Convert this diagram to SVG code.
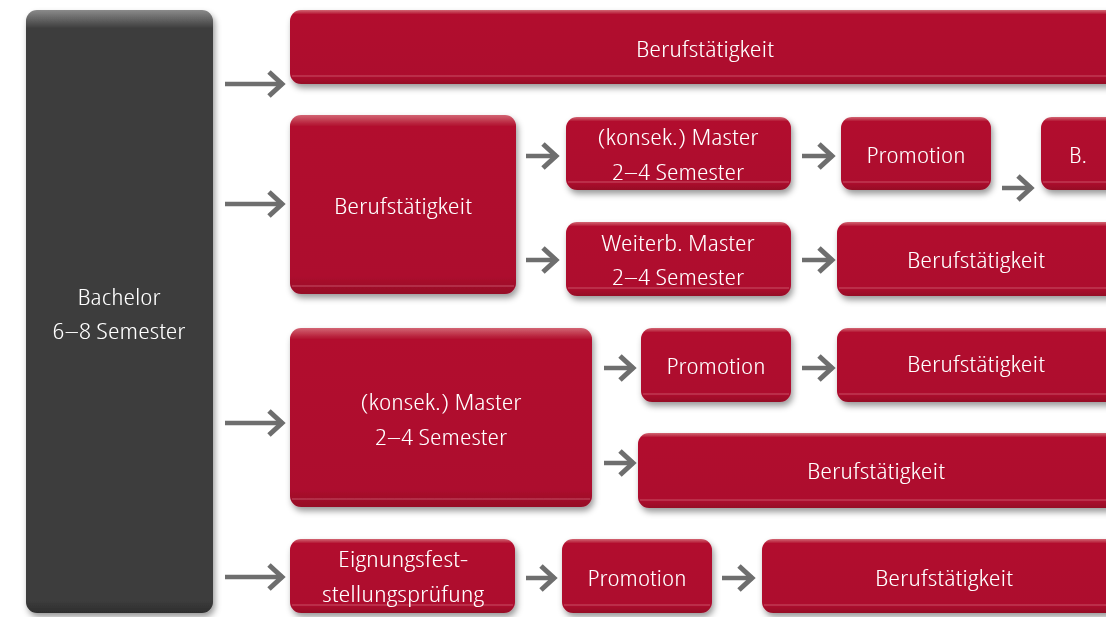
<svg xmlns="http://www.w3.org/2000/svg" width="1106" height="617" viewBox="0 0 1106 617">
<style>
.box{fill:url(#red)}
.hl{stroke:#d4707f;stroke-width:1;opacity:0.7}
.t{font-family:"Open Sans","DejaVu Sans Condensed",sans-serif;font-stretch:condensed;font-weight:300;font-size:22.5px;fill:#ffffff;text-anchor:middle}
.arr{stroke:#6e6e6e;stroke-width:4.5;fill:none;stroke-linecap:butt}
</style>
<defs>
<linearGradient id="red" x1="0" y1="0" x2="0" y2="1">
<stop offset="0" stop-color="#d26573"/>
<stop offset="0.06" stop-color="#b2112f"/>
<stop offset="0.9" stop-color="#ad0a2e"/>
<stop offset="1" stop-color="#950826"/>
</linearGradient>
<linearGradient id="dark" x1="0" y1="0" x2="0" y2="1">
<stop offset="0" stop-color="#8a8a8a"/>
<stop offset="0.03" stop-color="#3e3e3e"/>
<stop offset="0.98" stop-color="#3c3c3c"/>
<stop offset="1" stop-color="#2e2e2e"/>
</linearGradient>
<filter id="sh" x="-10%" y="-10%" width="120%" height="130%">
<feDropShadow dx="2" dy="4" stdDeviation="3" flood-color="#000" flood-opacity="0.4"/>
</filter>
<marker id="ah" viewBox="0 0 20 28" refX="17" refY="14" markerWidth="20" markerHeight="28" markerUnits="userSpaceOnUse" orient="auto">
<path d="M3,2 L16,14 L3,26" fill="none" stroke="#6e6e6e" stroke-width="5"/>
</marker>
</defs>
<rect width="1106" height="617" fill="#ffffff"/>

<g id="bachelor" filter="url(#sh)">
<rect x="26" y="10" width="187" height="603" rx="11" fill="url(#dark)"/>
<text class="t" x="119" y="305" textLength="83" lengthAdjust="spacingAndGlyphs">Bachelor</text>
<text class="t" x="119" y="339" textLength="133" lengthAdjust="spacingAndGlyphs">6–8 Semester</text>
</g>

<g id="r1-beruf" filter="url(#sh)">
<rect class="box" x="290" y="10" width="830" height="74" rx="11"/>
<line class="hl" x1="292" y1="76" x2="1106" y2="76"/>
<text class="t" x="705" y="57" textLength="138" lengthAdjust="spacingAndGlyphs">Berufstätigkeit</text>
</g>

<g id="r2-beruf" filter="url(#sh)">
<rect class="box" x="290" y="115" width="226" height="179" rx="11"/>
<line class="hl" x1="292" y1="286" x2="514" y2="286"/>
<text class="t" x="403" y="214" textLength="138" lengthAdjust="spacingAndGlyphs">Berufstätigkeit</text>
</g>

<g id="r2-master" filter="url(#sh)">
<rect class="box" x="566" y="117" width="225" height="73" rx="11"/>
<line class="hl" x1="568" y1="182" x2="789" y2="182"/>
<text class="t" x="678" y="145" textLength="161" lengthAdjust="spacingAndGlyphs">(konsek.) Master</text>
<text class="t" x="678" y="180" textLength="132" lengthAdjust="spacingAndGlyphs">2–4 Semester</text>
</g>

<g id="r2-promotion" filter="url(#sh)">
<rect class="box" x="841" y="117" width="150" height="73" rx="11"/>
<line class="hl" x1="843" y1="182" x2="989" y2="182"/>
<text class="t" x="916" y="163" textLength="99" lengthAdjust="spacingAndGlyphs">Promotion</text>
</g>

<g id="r2-b" filter="url(#sh)">
<rect class="box" x="1041" y="117" width="80" height="73" rx="11"/>
<line class="hl" x1="1043" y1="182" x2="1106" y2="182"/>
<text class="t" x="1078" y="163" textLength="18" lengthAdjust="spacingAndGlyphs">B.</text>
</g>

<g id="r2-weiterb" filter="url(#sh)">
<rect class="box" x="566" y="222" width="225" height="74" rx="11"/>
<line class="hl" x1="568" y1="288" x2="789" y2="288"/>
<text class="t" x="678" y="251" textLength="153" lengthAdjust="spacingAndGlyphs">Weiterb. Master</text>
<text class="t" x="678" y="285" textLength="132" lengthAdjust="spacingAndGlyphs">2–4 Semester</text>
</g>

<g id="r2-beruf2" filter="url(#sh)">
<rect class="box" x="837" y="222" width="283" height="74" rx="11"/>
<line class="hl" x1="839" y1="288" x2="1106" y2="288"/>
<text class="t" x="976" y="268" textLength="138" lengthAdjust="spacingAndGlyphs">Berufstätigkeit</text>
</g>

<g id="r3-master" filter="url(#sh)">
<rect class="box" x="290" y="328" width="302" height="179" rx="11"/>
<line class="hl" x1="292" y1="499" x2="590" y2="499"/>
<text class="t" x="441" y="410" textLength="161" lengthAdjust="spacingAndGlyphs">(konsek.) Master</text>
<text class="t" x="441" y="445" textLength="132" lengthAdjust="spacingAndGlyphs">2–4 Semester</text>
</g>

<g id="r3-promotion" filter="url(#sh)">
<rect class="box" x="641" y="328" width="150" height="74" rx="11"/>
<line class="hl" x1="643" y1="394" x2="789" y2="394"/>
<text class="t" x="716" y="374" textLength="99" lengthAdjust="spacingAndGlyphs">Promotion</text>
</g>

<g id="r3-beruf" filter="url(#sh)">
<rect class="box" x="837" y="328" width="283" height="74" rx="11"/>
<line class="hl" x1="839" y1="394" x2="1106" y2="394"/>
<text class="t" x="976" y="372" textLength="138" lengthAdjust="spacingAndGlyphs">Berufstätigkeit</text>
</g>

<g id="r3-beruf2" filter="url(#sh)">
<rect class="box" x="638" y="433" width="482" height="75" rx="11"/>
<line class="hl" x1="640" y1="500" x2="1106" y2="500"/>
<text class="t" x="876" y="479" textLength="138" lengthAdjust="spacingAndGlyphs">Berufstätigkeit</text>
</g>

<g id="r4-eignung" filter="url(#sh)">
<rect class="box" x="290" y="539" width="225" height="74" rx="11"/>
<line class="hl" x1="292" y1="605" x2="513" y2="605"/>
<text class="t" x="403" y="567" textLength="130" lengthAdjust="spacingAndGlyphs">Eignungsfest-</text>
<text class="t" x="403" y="602" textLength="162" lengthAdjust="spacingAndGlyphs">stellungsprüfung</text>
</g>

<g id="r4-promotion" filter="url(#sh)">
<rect class="box" x="562" y="539" width="150" height="74" rx="11"/>
<line class="hl" x1="564" y1="605" x2="710" y2="605"/>
<text class="t" x="637" y="586" textLength="99" lengthAdjust="spacingAndGlyphs">Promotion</text>
</g>

<g id="r4-beruf" filter="url(#sh)">
<rect class="box" x="762" y="539" width="358" height="74" rx="11"/>
<line class="hl" x1="764" y1="605" x2="1106" y2="605"/>
<text class="t" x="944" y="586" textLength="138" lengthAdjust="spacingAndGlyphs">Berufstätigkeit</text>
</g>

<g id="connectors">
<line class="arr" x1="225" y1="84" x2="283" y2="84" marker-end="url(#ah)"/>
<line class="arr" x1="225" y1="204" x2="283" y2="204" marker-end="url(#ah)"/>
<line class="arr" x1="225" y1="423" x2="283" y2="423" marker-end="url(#ah)"/>
<line class="arr" x1="225" y1="577" x2="283" y2="577" marker-end="url(#ah)"/>
<line class="arr" x1="526" y1="156" x2="557" y2="156" marker-end="url(#ah)"/>
<line class="arr" x1="526" y1="260" x2="557" y2="260" marker-end="url(#ah)"/>
<line class="arr" x1="802" y1="156" x2="833" y2="156" marker-end="url(#ah)"/>
<line class="arr" x1="802" y1="260" x2="833" y2="260" marker-end="url(#ah)"/>
<line class="arr" x1="1002" y1="188" x2="1032" y2="188" marker-end="url(#ah)"/>
<line class="arr" x1="604" y1="368" x2="634" y2="368" marker-end="url(#ah)"/>
<line class="arr" x1="802" y1="368" x2="833" y2="368" marker-end="url(#ah)"/>
<line class="arr" x1="604" y1="463" x2="634" y2="463" marker-end="url(#ah)"/>
<line class="arr" x1="526" y1="578" x2="555" y2="578" marker-end="url(#ah)"/>
<line class="arr" x1="722" y1="578" x2="753" y2="578" marker-end="url(#ah)"/>
</g>
</svg>
